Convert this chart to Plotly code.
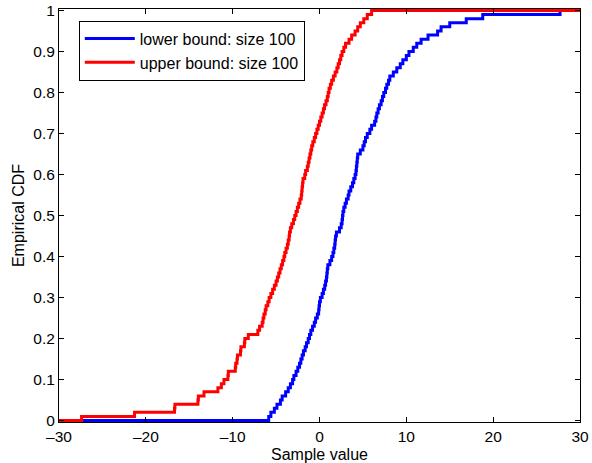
import numpy as np
import plotly.graph_objects as go

# Sample values (sorted), 100 each
lower_samples = [
    -5.85, -5.6, -5.2, -4.9, -4.5, -4.3, -3.9, -3.6, -3.35, -3.1,
    -2.95, -2.7, -2.5, -2.3, -2.15, -2.0, -1.85, -1.65, -1.5, -1.3,
    -1.15, -1.0, -0.8, -0.6, -0.45, -0.25, -0.1, -0.05, 0.0, 0.1,
    0.3, 0.45, 0.6, 0.7, 0.8, 0.85, 0.9, 0.96, 1.2, 1.4,
    1.55, 1.65, 1.75, 1.8, 1.85, 1.95, 2.3, 2.5, 2.6, 2.65,
    2.7, 2.8, 2.95, 3.1, 3.3, 3.4, 3.6, 3.8, 3.95, 4.1,
    4.2, 4.25, 4.3, 4.35, 4.4, 4.7, 5.0, 5.15, 5.3, 5.5,
    5.8, 6.0, 6.35, 6.5, 6.6, 6.75, 6.9, 7.1, 7.25, 7.4,
    7.6, 7.75, 7.95, 8.1, 8.5, 8.9, 9.3, 9.6, 10.0, 10.3,
    10.8, 11.2, 11.7, 12.5, 13.6, 14.0, 15.0, 16.9, 18.8, 27.7,
]
upper_samples = [
    -27.4, -21.3, -16.7, -16.65, -14.0, -13.95, -13.3, -11.7, -11.3, -11.0,
    -10.55, -10.5, -9.7, -9.65, -9.5, -9.45, -9.1, -9.05, -8.65, -8.6,
    -8.2, -7.1, -6.9, -6.6, -6.5, -6.4, -6.25, -6.15, -5.95, -5.8,
    -5.6, -5.4, -5.2, -5.0, -4.85, -4.7, -4.55, -4.4, -4.25, -4.1,
    -4.0, -3.85, -3.7, -3.6, -3.5, -3.45, -3.35, -3.2, -3.0, -2.85,
    -2.7, -2.55, -2.4, -2.25, -2.1, -2.05, -2.0, -1.95, -1.9, -1.7,
    -1.6, -1.4, -1.3, -1.2, -1.1, -1.0, -0.9, -0.77, -0.6, -0.45,
    -0.3, -0.15, 0.0, 0.15, 0.3, 0.45, 0.58, 0.75, 0.9, 1.0,
    1.1, 1.25, 1.4, 1.6, 1.8, 2.0, 2.15, 2.3, 2.45, 2.6,
    2.8, 3.0, 3.4, 3.7, 4.1, 4.4, 4.7, 5.1, 5.5, 6.0,
]
series_names = ["lower bound: size 100", "upper bound: size 100"]
series_colors = ["#0000ff", "#ff0000"]
x_range = [-30, 30]
x_ticks = [-30, -20, -10, 0, 10, 20, 30]
x_tick_labels = ["\u201330", "\u201320", "\u201310", "0", "10", "20", "30"]
y_ticks = [0, 0.1, 0.2, 0.3, 0.4, 0.5, 0.6, 0.7, 0.8, 0.9, 1]
y_tick_labels = ["0", "0.1", "0.2", "0.3", "0.4", "0.5", "0.6", "0.7", "0.8", "0.9", "1"]


def ecdf_xy(samples, lo, hi):
    s = np.sort(np.asarray(samples, dtype=float))
    n = len(s)
    y = np.arange(1, n + 1) / n
    xs = np.concatenate([[lo], s, [hi]])
    ys = np.concatenate([[0.0], y, [1.0]])
    return xs, ys


fig = go.Figure()
for samples, name, color in zip([lower_samples, upper_samples], series_names, series_colors):
    xs, ys = ecdf_xy(samples, x_range[0], x_range[1])
    fig.add_trace(go.Scatter(x=xs, y=ys, mode="lines", name=name,
                             line=dict(color=color, width=3, shape="hv")))

font_family = "Liberation Sans, Arial, Helvetica, sans-serif"
axis_common = dict(showline=True, linecolor="black", linewidth=1, mirror="ticks",
                   ticks="inside", ticklen=5, tickcolor="black", showgrid=False,
                   zeroline=False, automargin=False,
                   tickfont=dict(size=15.5, color="black", family=font_family))
fig.update_xaxes(range=x_range, tickvals=x_ticks, ticktext=x_tick_labels,
                 title=dict(text="Sample value", font=dict(size=16, color="black", family=font_family), standoff=5),
                 **axis_common)
fig.update_yaxes(range=[-0.0035, 1.0035], tickvals=y_ticks, ticktext=y_tick_labels,
                 title=dict(text="Empirical CDF", font=dict(size=16, color="black", family=font_family), standoff=4),
                 **axis_common)
fig.update_layout(
    width=592, height=463,
    margin=dict(l=59, r=12, t=9, b=41),
    paper_bgcolor="white", plot_bgcolor="white",
    showlegend=True,
    legend=dict(x=0.038, y=0.972, xanchor="left", yanchor="top",
                bgcolor="white", bordercolor="black", borderwidth=1,
                font=dict(size=16, color="black", family=font_family),
                itemwidth=50, tracegroupgap=0),
    font=dict(family=font_family),
)
fig.write_html("out.html", config={"displayModeBar": False},
               post_script="document.body.style.margin='0';document.body.style.overflow='hidden';")
